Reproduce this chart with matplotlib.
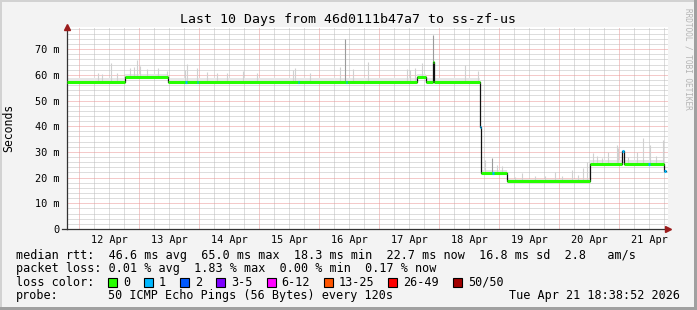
import numpy as np
import matplotlib
matplotlib.use("Agg")
import matplotlib.pyplot as plt
from matplotlib.patches import Rectangle

W, H = 697, 310

# median rtt as steps: day of April (12.0 = 12 Apr 00:00), value in ms
med_t = [11.80, 12.767, 13.488, 17.628, 17.778, 17.895, 17.912, 18.683, 18.700,
         19.128, 20.517, 21.055, 21.085, 21.755]
med_v = [57.3, 59.1, 57.3, 59.3, 57.3, 65.0, 57.3, 39.5, 21.9,
         18.5, 25.4, 30.3, 25.4, 22.7]
med_loss = [0, 0, 0, 0, 0, 0, 0, 1, 0, 0, 0, 1, 0, 1]
t_end = 21.777

# dense smoke top for each step
smoke_top = [58.6, 60.3, 58.6, 60.3, 58.6, 65.0, 58.6, 39.5, 23.0,
             19.4, 26.8, 30.3, 26.8, 22.7]

# single smoke spikes (time, max ping in ms)
spike_t = [12.312, 12.378, 12.533, 12.628, 12.850, 12.917, 12.962, 13.017, 13.133,
           13.312, 13.462, 13.767, 13.795, 13.962, 14.128, 14.295, 14.462, 14.738,
           14.962, 15.567, 15.600, 15.850, 16.350, 16.567, 16.822, 17.462, 17.517,
           17.600, 17.712, 18.433, 18.655, 18.767, 18.962, 19.045, 19.267, 19.378,
           19.600, 19.767, 19.933, 20.050, 20.212, 20.317, 20.405, 20.460, 20.572,
           20.628, 20.717, 20.822, 20.962, 20.988, 21.150, 21.295, 21.405, 21.517,
           21.617, 21.738]
spike_top = [60.7, 60.5, 64.5, 60.6, 62.5, 63.0, 65.8, 63.5, 62.2,
             62.5, 61.5, 61.9, 64.2, 62.5, 61.0, 60.8, 60.8, 61.5,
             60.8, 62.0, 62.8, 60.8, 63.2, 62.2, 64.9, 62.2, 61.8,
             62.5, 64.4, 63.8, 61.5, 26.9, 25.0, 24.5, 20.2, 21.7,
             20.5, 20.8, 22.3, 20.5, 22.9, 21.0, 23.6, 26.2, 29.4,
             28.5, 27.8, 30.1, 32.7, 31.5, 28.0, 30.0, 35.3, 32.7,
             28.5, 34.6]
dark_spike_t = [16.433, 17.905, 18.888]
dark_spike_top = [74.0, 75.5, 27.5]

# short samples with 1 lost ping
loss1_t = [13.767, 13.962, 15.645, 16.445, 18.888, 21.488]

day_labels = ['12 Apr', '13 Apr', '14 Apr', '15 Apr', '16 Apr',
              '17 Apr', '18 Apr', '19 Apr', '20 Apr', '21 Apr']
y_ticks = [0, 10, 20, 30, 40, 50, 60, 70]
y_labels = ['0', '10 m', '20 m', '30 m', '40 m', '50 m', '60 m', '70 m']

loss_colors = ['#26ff00', '#00b8ff', '#0059ff', '#7e00ff',
               '#ff00ff', '#ff5500', '#ff0000', '#a10000']
loss_labels = ['0', '1', '2', '3-5', '6-12', '13-25', '26-49', '50/50']

mono = 'DejaVu Sans Mono'

fig = plt.figure(figsize=(W / 100, H / 100), dpi=100, facecolor='#f3f3f3')

# 3d-ish border
fig.add_artist(Rectangle((0, 1 - 2 / H), 1, 2 / H, transform=fig.transFigure, color='#d2d2d2', lw=0))
fig.add_artist(Rectangle((0, 0), 2 / W, 1, transform=fig.transFigure, color='#d2d2d2', lw=0))
fig.add_artist(Rectangle((0, 0), 1, 3 / H, transform=fig.transFigure, color='#a0a0a0', lw=0))
fig.add_artist(Rectangle((1 - 3 / W, 0), 3 / W, 1, transform=fig.transFigure, color='#a0a0a0', lw=0))

ax = fig.add_axes([67 / W, 1 - 229 / H, 601 / W, 202 / H])
ax.set_facecolor('white')
ax.set_xlim(11.8, 11.8 + 601 / 60)
ax.set_ylim(0, 78.6)

# grid
dot = (0, (1, 1))
for q in np.arange(11.75, 21.9, 0.25):
    if q > 11.8 and q % 1 != 0:
        ax.axvline(q, color='#bdbdbd', lw=0.72, ls=dot, zorder=1)
for d in range(12, 22):
    ax.axvline(d, color='#ea9494', lw=0.72, ls=dot, zorder=1)
for yv in range(2, 79, 2):
    if yv % 10:
        ax.axhline(yv, color='#bdbdbd', lw=0.72, ls=dot, zorder=1)
    else:
        ax.axhline(yv, color='#ea9494', lw=0.72, ls=dot, zorder=1)

t_next = med_t[1:] + [t_end]
med_arr = np.array(med_v)


def median_at(t):
    return med_arr[np.searchsorted(med_t, t, side='right') - 1]


# smoke
for i in range(len(med_t)):
    ax.fill_between([med_t[i], t_next[i]], med_v[i], smoke_top[i],
                    color='#e6e6e6', lw=0, zorder=2)
ax.vlines(spike_t, median_at(np.array(spike_t)), spike_top, color='#d0d0d0', lw=0.8, zorder=2)
ax.vlines(dark_spike_t, median_at(np.array(dark_spike_t)), dark_spike_top, color='#9a9a9a', lw=0.8, zorder=2)

# median line
ax.step(med_t + [t_end], med_v + [med_v[-1]], where='post', color='#111111', lw=0.9, zorder=3)
for i in range(len(med_t)):
    ax.hlines(med_v[i], med_t[i], t_next[i], color=loss_colors[med_loss[i]], lw=2.2, zorder=4)
for t in loss1_t:
    ax.hlines(median_at(t), t, t + 0.025, color=loss_colors[1], lw=2.2, zorder=5)

# axes
for s in ['top', 'right']:
    ax.spines[s].set_visible(False)
for s in ['left', 'bottom']:
    ax.spines[s].set_color('#333333')
    ax.spines[s].set_linewidth(0.9)
ax.plot([-5 / 601, 0], [0, 0], transform=ax.transAxes, color='#333333', lw=0.9, clip_on=False)
ax.plot([0], [1.0], transform=ax.transAxes, marker='^', ms=5, color='#9b1c1c', clip_on=False, zorder=6)
ax.plot([1.0], [0], transform=ax.transAxes, marker='>', ms=5, color='#9b1c1c', clip_on=False, zorder=6)

ax.set_xticks(np.arange(12.5, 22.0, 1.0))
ax.set_xticklabels(day_labels, family=mono, fontsize=7.4)
ax.set_yticks(y_ticks)
ax.set_yticklabels(y_labels, family=mono, fontsize=7.4)
ax.tick_params(axis='x', length=0, pad=4)
ax.tick_params(axis='y', length=0, pad=5.5)
ax.set_ylabel('Seconds', family=mono, fontsize=8.3)
ax.yaxis.set_label_coords(-52 / 601, 0.5)

# title and watermark
fig.text(348 / W, 1 - 19 / H, 'Last 10 Days from 46d0111b47a7 to ss-zf-us',
         family=mono, fontsize=9.5, ha='center', va='center')
fig.text(688 / W, 1 - 59 / H, 'RRDTOOL / TOBI OETIKER', family=mono, fontsize=5.6,
         color='#b4b4b4', rotation=-90, ha='center', va='center')

# legend
fs = 8.5
fig.text(16 / W, 1 - 255 / H,
         'median rtt:  46.6 ms avg  65.0 ms max  18.3 ms min  22.7 ms now  16.8 ms sd  2.8   am/s',
         family=mono, fontsize=fs, va='center')
fig.text(16 / W, 1 - 268.5 / H,
         'packet loss: 0.01 % avg  1.83 % max  0.00 % min  0.17 % now',
         family=mono, fontsize=fs, va='center')
fig.text(16 / W, 1 - 282 / H, 'loss color:', family=mono, fontsize=fs, va='center')
fig.text(16 / W, 1 - 295.5 / H, 'probe:', family=mono, fontsize=fs, va='center')
fig.text(108 / W, 1 - 295.5 / H, '50 ICMP Echo Pings (56 Bytes) every 120s',
         family=mono, fontsize=fs, va='center')
fig.text(680 / W, 1 - 295.5 / H, 'Tue Apr 21 18:38:52 2026',
         family=mono, fontsize=fs, va='center', ha='right')

cw = 7.1
x = 108.0
for c, lab in zip(loss_colors, loss_labels):
    fig.add_artist(Rectangle((x / W, 1 - 286.5 / H), 9 / W, 9 / H, transform=fig.transFigure,
                             facecolor=c, edgecolor='black', lw=0.8))
    fig.text((x + 15) / W, 1 - 282 / H, lab, family=mono, fontsize=fs, va='center')
    x += 15 + cw * len(lab) + 14

fig.savefig('out.png', dpi=100, facecolor=fig.get_facecolor())
